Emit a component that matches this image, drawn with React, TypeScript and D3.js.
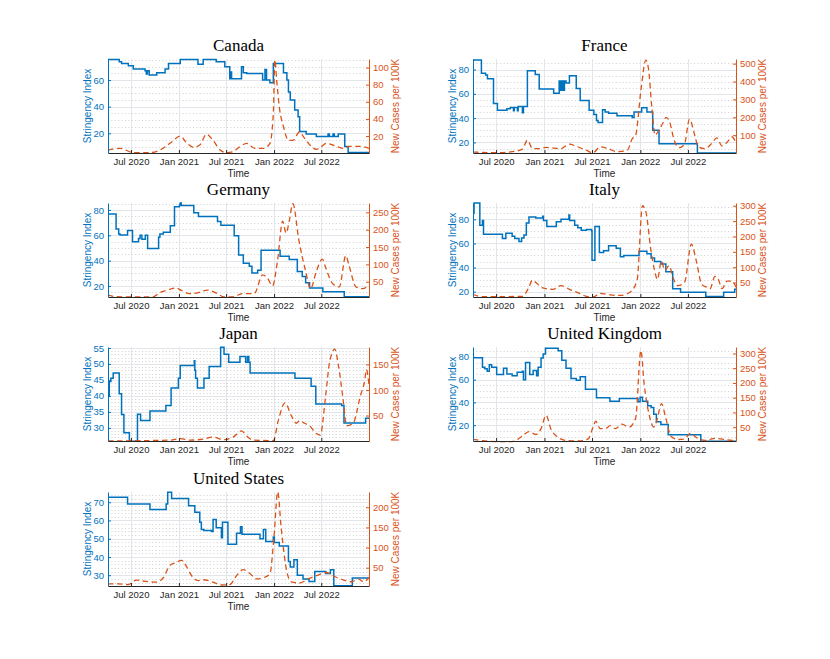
import { useRef, useEffect } from "react";
import * as d3 from "d3";

type Pt = [string, number];

// x axis
const timeRange = ["2020-04-04", "2022-12-31"];
const xTickDates = ["2020-07-01", "2021-01-01", "2021-07-01", "2022-01-01", "2022-07-01"];
const xTickLabels = ["Jul 2020", "Jan 2021", "Jul 2021", "Jan 2022", "Jul 2022"];

const countries = ["Canada", "France", "Germany", "Italy", "Japan", "United Kingdom", "United States"];

// Stringency index (step series)
const canadaStringency: Pt[] = [
    ["2020-04-04", 75.5], ["2020-05-17", 73.8], ["2020-05-26", 72.5], ["2020-06-21", 70.8], ["2020-07-10", 68.3],
    ["2020-08-24", 67], ["2020-08-29", 64.5], ["2020-09-02", 67], ["2020-09-09", 63.8], ["2020-10-08", 65.5],
    ["2020-11-09", 68.3], ["2020-11-22", 72.5], ["2021-01-06", 75.5], ["2021-03-15", 71.8], ["2021-04-04", 75.5],
    ["2021-05-24", 73.8], ["2021-06-26", 70], ["2021-07-15", 61], ["2021-07-19", 66], ["2021-07-22", 61],
    ["2021-08-23", 61], ["2021-08-29", 70], ["2021-09-05", 65.5], ["2021-09-18", 65], ["2021-11-18", 60],
    ["2021-11-27", 68], ["2021-12-03", 60], ["2021-12-16", 58], ["2021-12-29", 72.5], ["2022-02-06", 65.5],
    ["2022-02-19", 60], ["2022-02-25", 51], ["2022-03-04", 45], ["2022-03-21", 37.5], ["2022-04-03", 32.5],
    ["2022-04-09", 21.3], ["2022-05-04", 19.5], ["2022-06-12", 17.5], ["2022-07-27", 19.5], ["2022-08-01", 17.5],
    ["2022-08-15", 19.5], ["2022-08-20", 17.5], ["2022-09-04", 19.5], ["2022-09-29", 10], ["2022-10-12", 5.5],
    ["2022-12-31", 5.5],
];
const franceStringency: Pt[] = [
    ["2020-04-04", 87.9], ["2020-05-06", 77], ["2020-05-22", 75.5], ["2020-05-29", 72.5], ["2020-06-21", 52],
    ["2020-07-06", 46.5], ["2020-08-11", 47.8], ["2020-08-24", 48.8], ["2020-09-05", 46], ["2020-09-08", 48.8],
    ["2020-09-20", 46], ["2020-09-23", 49.6], ["2020-10-09", 44.4], ["2020-10-13", 49.6], ["2020-10-28", 79],
    ["2020-11-27", 76], ["2020-12-12", 64], ["2021-02-05", 60.5], ["2021-02-26", 70.5], ["2021-03-01", 63],
    ["2021-03-04", 70.5], ["2021-03-08", 63], ["2021-03-11", 70.5], ["2021-03-15", 63], ["2021-03-18", 70.5],
    ["2021-03-24", 69], ["2021-04-06", 75], ["2021-05-02", 64.5], ["2021-05-17", 54.5], ["2021-06-20", 46.5],
    ["2021-07-08", 43], ["2021-07-18", 38], ["2021-07-24", 36.5], ["2021-08-10", 47], ["2021-08-20", 45],
    ["2021-09-02", 44], ["2021-10-04", 42], ["2021-12-01", 40.5], ["2021-12-08", 45], ["2022-01-06", 48.5],
    ["2022-01-26", 45], ["2022-02-17", 30], ["2022-03-13", 19], ["2022-08-06", 11.3], ["2022-12-31", 11.3],
];
const germanyStringency: Pt[] = [
    ["2020-04-04", 76.8], ["2020-05-05", 65], ["2020-05-15", 61], ["2020-05-20", 60.3], ["2020-06-18", 63.7],
    ["2020-07-07", 55], ["2020-07-30", 57.5], ["2020-08-05", 60], ["2020-08-12", 56.8], ["2020-08-25", 60],
    ["2020-09-03", 49.5], ["2020-10-15", 58.5], ["2020-10-20", 61], ["2020-11-02", 62.5], ["2020-11-29", 67.5],
    ["2020-12-15", 82.5], ["2021-01-03", 84], ["2021-01-06", 85.5], ["2021-01-10", 83.5], ["2021-02-27", 77.8],
    ["2021-03-17", 74.8], ["2021-05-29", 70.8], ["2021-06-11", 68], ["2021-08-01", 59.7], ["2021-08-18", 44.5],
    ["2021-09-05", 38], ["2021-09-28", 35.5], ["2021-10-08", 30.3], ["2021-10-30", 32.5], ["2021-11-12", 48.3],
    ["2022-01-24", 43.5], ["2022-02-28", 41], ["2022-03-31", 31.5], ["2022-04-19", 27.5], ["2022-05-02", 22.5],
    ["2022-05-17", 18.5], ["2022-07-07", 15.5], ["2022-09-27", 11.5], ["2022-12-31", 11.5],
];
const italyStringency: Pt[] = [
    ["2020-04-04", 85], ["2020-04-08", 93.5], ["2020-04-30", 75], ["2020-05-10", 79], ["2020-05-14", 67.5],
    ["2020-07-25", 64], ["2020-08-07", 68.5], ["2020-08-31", 66], ["2020-09-10", 64], ["2020-09-26", 61.5],
    ["2020-10-06", 64.5], ["2020-10-15", 67], ["2020-10-24", 77], ["2020-11-03", 82], ["2020-11-29", 81],
    ["2020-12-25", 82.5], ["2020-12-28", 79], ["2021-01-10", 74], ["2021-02-15", 78], ["2021-03-05", 80],
    ["2021-04-04", 83.5], ["2021-04-07", 79], ["2021-04-26", 75], ["2021-05-08", 73], ["2021-05-21", 71],
    ["2021-06-10", 71.5], ["2021-06-29", 70.5], ["2021-07-01", 46], ["2021-07-12", 74], ["2021-07-29", 52.5],
    ["2021-08-14", 54], ["2021-09-02", 58], ["2021-10-01", 56], ["2021-10-17", 49], ["2021-10-30", 50],
    ["2021-12-27", 53.5], ["2022-01-26", 51.5], ["2022-02-11", 48], ["2022-02-24", 45], ["2022-03-20", 43],
    ["2022-04-08", 36.5], ["2022-05-04", 22.5], ["2022-06-03", 19.5], ["2022-09-07", 16], ["2022-11-14", 19.5],
    ["2022-12-26", 22], ["2022-12-31", 22],
];
const japanStringency: Pt[] = [
    ["2020-04-04", 40], ["2020-04-09", 44.5], ["2020-04-15", 45.5], ["2020-04-24", 47.2], ["2020-05-17", 40.7],
    ["2020-05-26", 34.2], ["2020-06-04", 28.5], ["2020-06-25", 25.8], ["2020-07-26", 34.3], ["2020-08-07", 32.3],
    ["2020-09-12", 35.3], ["2020-11-12", 37], ["2020-12-02", 42.5], ["2020-12-30", 45.5], ["2021-01-06", 49.5],
    ["2021-03-01", 51], ["2021-03-03", 48], ["2021-03-06", 45.5], ["2021-03-13", 42.5], ["2021-04-07", 45.5],
    ["2021-04-27", 49.2], ["2021-06-10", 55.2], ["2021-06-23", 53], ["2021-07-11", 50.5], ["2021-08-23", 52.3],
    ["2021-09-14", 50.5], ["2021-09-21", 52.3], ["2021-09-26", 50.5], ["2021-10-01", 47.2], ["2022-03-22", 45.5],
    ["2022-05-23", 43], ["2022-06-10", 37.5], ["2022-09-17", 37], ["2022-09-26", 31.5], ["2022-12-18", 33],
    ["2022-12-31", 33],
];
const ukStringency: Pt[] = [
    ["2020-04-04", 79.2], ["2020-05-10", 71], ["2020-05-19", 69.5], ["2020-05-28", 67.5], ["2020-06-05", 73],
    ["2020-06-14", 71], ["2020-07-03", 64.5], ["2020-07-29", 70], ["2020-08-11", 65], ["2020-08-31", 63.5],
    ["2020-09-19", 66.5], ["2020-10-09", 67.5], ["2020-10-13", 60], ["2020-10-21", 75], ["2020-11-06", 64.5],
    ["2020-11-19", 68], ["2020-12-02", 63.5], ["2020-12-08", 71], ["2020-12-19", 79], ["2020-12-27", 82.5],
    ["2021-01-05", 87.5], ["2021-02-22", 85.5], ["2021-03-08", 77], ["2021-03-24", 70], ["2021-04-12", 61],
    ["2021-05-02", 59.5], ["2021-05-17", 62.5], ["2021-06-06", 51.5], ["2021-07-18", 44], ["2021-09-07", 41],
    ["2021-10-13", 43.5], ["2021-12-23", 40.5], ["2021-12-31", 44.5], ["2022-01-09", 41], ["2022-01-29", 37],
    ["2022-02-11", 35.5], ["2022-02-21", 29.5], ["2022-03-03", 23], ["2022-03-20", 20.5], ["2022-04-17", 11.5],
    ["2022-08-19", 5.8], ["2022-12-31", 5.8],
];
const usStringency: Pt[] = [
    ["2020-04-04", 72.7], ["2020-06-18", 69], ["2020-09-12", 66], ["2020-11-13", 69], ["2020-11-19", 75.5],
    ["2020-12-04", 72], ["2021-02-07", 68], ["2021-03-03", 64.5], ["2021-03-22", 59], ["2021-03-28", 55],
    ["2021-04-07", 54.5], ["2021-05-06", 54], ["2021-05-12", 60.5], ["2021-05-24", 56], ["2021-06-13", 50.5],
    ["2021-06-17", 59], ["2021-07-08", 47], ["2021-08-10", 53], ["2021-08-25", 56.5], ["2021-08-31", 52.5],
    ["2021-11-08", 50], ["2021-11-21", 55], ["2021-11-30", 48.5], ["2021-12-29", 51], ["2022-01-02", 48],
    ["2022-01-21", 46], ["2022-02-25", 37.5], ["2022-03-04", 34.5], ["2022-03-18", 38.5], ["2022-03-31", 30],
    ["2022-04-22", 28], ["2022-05-15", 26.5], ["2022-06-06", 32], ["2022-07-18", 31], ["2022-08-05", 33],
    ["2022-08-18", 24.2], ["2022-10-28", 28.5], ["2022-12-31", 28.5],
];

// New cases per 100K
const canadaCases: Pt[] = [
    ["2020-04-04", 3.7], ["2020-05-20", 5.6], ["2020-07-10", 0.6], ["2020-09-12", 0.6], ["2020-10-20", 3.7],
    ["2020-11-28", 11.5], ["2021-01-06", 20], ["2021-02-01", 11.5], ["2021-02-27", 6.8], ["2021-03-22", 9.5],
    ["2021-04-17", 22], ["2021-05-12", 15], ["2021-06-07", 4], ["2021-07-02", 0.6], ["2021-07-28", 1.8],
    ["2021-08-23", 7.6], ["2021-09-18", 11.5], ["2021-10-19", 5.6], ["2021-11-21", 5.6], ["2021-12-16", 11.5],
    ["2021-12-29", 46], ["2022-01-04", 109], ["2022-01-11", 85], ["2022-01-21", 54], ["2022-02-06", 31],
    ["2022-02-25", 15], ["2022-03-14", 15], ["2022-04-09", 25], ["2022-04-22", 20], ["2022-05-17", 10],
    ["2022-06-12", 4.5], ["2022-07-01", 7.6], ["2022-07-20", 11.5], ["2022-08-15", 9.5], ["2022-09-23", 5.6],
    ["2022-10-18", 8], ["2022-11-26", 8], ["2022-12-31", 5.6],
];
const franceCases: Pt[] = [
    ["2020-04-04", 6], ["2020-06-30", 2], ["2020-08-31", 7.8], ["2020-10-09", 22], ["2020-10-28", 72],
    ["2020-11-17", 25], ["2020-12-12", 25], ["2021-01-07", 32], ["2021-02-02", 28], ["2021-03-05", 25],
    ["2021-04-06", 50], ["2021-05-02", 38], ["2021-06-10", 15], ["2021-07-05", 2], ["2021-08-01", 35],
    ["2021-08-26", 28], ["2021-10-04", 8], ["2021-11-12", 15], ["2021-12-01", 80], ["2021-12-14", 100],
    ["2022-01-03", 350], ["2022-01-22", 520], ["2022-02-01", 470], ["2022-02-14", 250], ["2022-02-26", 100],
    ["2022-03-13", 130], ["2022-04-01", 180], ["2022-04-08", 200], ["2022-04-21", 180], ["2022-05-10", 70],
    ["2022-05-29", 30], ["2022-06-18", 50], ["2022-07-07", 190], ["2022-07-27", 100], ["2022-08-09", 35],
    ["2022-09-04", 25], ["2022-09-30", 55], ["2022-10-19", 85], ["2022-11-08", 40], ["2022-11-27", 60],
    ["2022-12-16", 90], ["2022-12-31", 55],
];
const germanyCases: Pt[] = [
    ["2020-04-04", 12], ["2020-05-05", 6.7], ["2020-09-23", 6], ["2020-10-18", 18], ["2020-11-13", 25],
    ["2020-12-21", 32], ["2021-01-10", 25], ["2021-02-11", 16], ["2021-03-13", 18], ["2021-04-21", 26],
    ["2021-05-23", 18], ["2021-06-23", 6], ["2021-07-25", 6], ["2021-09-02", 16], ["2021-10-17", 16],
    ["2021-11-18", 70], ["2021-12-07", 60], ["2021-12-26", 38], ["2022-01-14", 110], ["2022-02-03", 225],
    ["2022-02-16", 190], ["2022-02-28", 225], ["2022-03-14", 275], ["2022-04-06", 170], ["2022-05-02", 80],
    ["2022-05-21", 30], ["2022-06-12", 80], ["2022-07-05", 115], ["2022-07-18", 90], ["2022-08-13", 45],
    ["2022-09-08", 35], ["2022-10-03", 125], ["2022-10-16", 95], ["2022-11-11", 35], ["2022-12-06", 30],
    ["2022-12-31", 40],
];
const italyCases: Pt[] = [
    ["2020-04-04", 12], ["2020-05-07", 4], ["2020-10-09", 5], ["2020-11-03", 35], ["2020-11-16", 58],
    ["2020-11-29", 50], ["2020-12-25", 33], ["2021-02-02", 28], ["2021-03-05", 40], ["2021-04-06", 28],
    ["2021-05-15", 15], ["2021-06-10", 5], ["2021-07-05", 3], ["2021-08-01", 15], ["2021-09-09", 10],
    ["2021-10-17", 8], ["2021-11-25", 20], ["2021-12-20", 60], ["2022-01-09", 300], ["2022-01-22", 280],
    ["2022-02-11", 150], ["2022-02-24", 90], ["2022-03-07", 60], ["2022-03-22", 120], ["2022-04-04", 90],
    ["2022-04-21", 105], ["2022-05-04", 70], ["2022-05-23", 40], ["2022-06-18", 50], ["2022-07-14", 175],
    ["2022-08-02", 120], ["2022-08-22", 45], ["2022-09-10", 35], ["2022-09-23", 30], ["2022-10-12", 70],
    ["2022-10-25", 60], ["2022-11-08", 30], ["2022-11-27", 55], ["2022-12-16", 55], ["2022-12-31", 35],
];
const japanCases: Pt[] = [
    ["2020-04-04", 0.5], ["2020-11-28", 2], ["2021-01-06", 5], ["2021-02-13", 2], ["2021-04-04", 4],
    ["2021-05-12", 8], ["2021-06-19", 3], ["2021-07-28", 8], ["2021-08-29", 20], ["2021-09-18", 10],
    ["2021-10-13", 2], ["2021-12-29", 1], ["2022-01-17", 40], ["2022-02-12", 75], ["2022-03-08", 50],
    ["2022-03-27", 35], ["2022-04-09", 40], ["2022-04-28", 35], ["2022-05-17", 30], ["2022-06-12", 15],
    ["2022-06-27", 12], ["2022-07-18", 90], ["2022-08-02", 155], ["2022-08-22", 180], ["2022-09-04", 150],
    ["2022-09-23", 80], ["2022-10-06", 30], ["2022-11-01", 35], ["2022-11-13", 55], ["2022-11-26", 85],
    ["2022-12-15", 120], ["2022-12-21", 140], ["2022-12-31", 110],
];
const ukCases: Pt[] = [
    ["2020-04-04", 8.5], ["2020-06-30", 1], ["2020-08-31", 1], ["2020-10-09", 20], ["2020-11-03", 35],
    ["2020-11-29", 25], ["2020-12-19", 45], ["2021-01-07", 90], ["2021-01-27", 40], ["2021-02-15", 20],
    ["2021-03-24", 5], ["2021-05-15", 3], ["2021-06-16", 10], ["2021-07-05", 50], ["2021-07-15", 70],
    ["2021-08-01", 45], ["2021-08-20", 45], ["2021-09-09", 55], ["2021-09-28", 45], ["2021-10-23", 60],
    ["2021-11-19", 50], ["2021-12-14", 80], ["2022-01-03", 310], ["2022-01-15", 200], ["2022-02-04", 90],
    ["2022-02-21", 50], ["2022-03-07", 80], ["2022-03-22", 130], ["2022-04-08", 80], ["2022-04-27", 20],
    ["2022-05-23", 8], ["2022-06-18", 10], ["2022-07-11", 30], ["2022-08-02", 15], ["2022-09-04", 5],
    ["2022-10-12", 12], ["2022-11-21", 8], ["2022-12-16", 5], ["2022-12-31", 12],
];
const usCases: Pt[] = [
    ["2020-04-04", 10], ["2020-05-12", 10], ["2020-06-21", 8], ["2020-07-22", 19], ["2020-08-24", 16],
    ["2020-10-08", 14], ["2020-11-02", 25], ["2020-11-28", 56], ["2020-12-17", 62], ["2021-01-12", 68],
    ["2021-01-28", 55], ["2021-02-19", 30], ["2021-03-15", 18], ["2021-04-04", 20], ["2021-05-12", 14],
    ["2021-06-13", 7], ["2021-07-15", 8], ["2021-08-10", 30], ["2021-09-05", 45], ["2021-10-01", 35],
    ["2021-10-26", 22], ["2021-11-21", 25], ["2021-12-16", 35], ["2022-01-01", 130], ["2022-01-15", 238],
    ["2022-01-28", 150], ["2022-02-19", 40], ["2022-03-08", 15], ["2022-04-09", 12], ["2022-05-11", 22],
    ["2022-06-12", 30], ["2022-07-20", 38], ["2022-08-15", 30], ["2022-09-23", 20], ["2022-10-25", 15],
    ["2022-11-20", 22], ["2022-12-09", 15], ["2022-12-31", 25],
];

const stringencySeries = [canadaStringency, franceStringency, germanyStringency, italyStringency, japanStringency, ukStringency, usStringency];
const casesSeries = [canadaCases, franceCases, germanyCases, italyCases, japanCases, ukCases, usCases];

// axis limits and ticks per country
const stringencyLimits = [[5.2, 75.8], [11.3, 88.7], [11.3, 85.5], [15.6, 93.5], [25.9, 55.3], [6.1, 88.7], [24.1, 75.6]];
const stringencyTicks = [[20, 40, 60], [20, 40, 60, 80], [20, 40, 60, 80], [20, 40, 60, 80], [30, 35, 40, 45, 50, 55], [20, 40, 60, 80], [30, 40, 50, 60, 70]];
const stringencyMinor = [5, 5, 5, 5, 1, 5, 2];
const casesLimits = [[0.2, 110], [0.4, 526], [6, 277], [3, 309], [0.3, 184], [3, 322], [4.5, 238]];
const casesTicks = [[20, 40, 60, 80, 100], [100, 200, 300, 400, 500], [50, 100, 150, 200, 250], [50, 100, 150, 200, 250, 300], [50, 100, 150], [50, 100, 150, 200, 250, 300], [50, 100, 150, 200]];

const BLUE = "#0072BD";
const ORANGE = "#D95319";
const SANS = "'Liberation Sans', Arial, Helvetica, sans-serif";

export default function App() {
    const svgRef = useRef<SVGSVGElement | null>(null);
    const width = 830;
    const height = 659;

    useEffect(() => {
        if (!svgRef.current) return;
        const svg = d3.select(svgRef.current);
        svg.selectAll("*").remove();

        const parse = d3.timeParse("%Y-%m-%d");
        const colX = [108, 473];
        const colW = [261, 263];
        const rowY = [59, 203, 347, 492];
        const plotH = 94;

        countries.forEach((name, i) => {
            const x0 = colX[i % 2];
            const w = colW[i % 2];
            const y0 = rowY[Math.floor(i / 2)];
            const x1 = x0 + w;
            const yb = y0 + plotH;

            const x = d3.scaleTime()
                .domain([parse(timeRange[0])!, parse(timeRange[1])!])
                .range([x0, x1]);
            const yL = d3.scaleLinear().domain(stringencyLimits[i]).range([yb, y0]);
            const yR = d3.scaleLinear().domain(casesLimits[i]).range([yb, y0]);

            const g = svg.append("g");

            // minor grid on the stringency axis (dotted)
            const step = stringencyMinor[i];
            const lim = stringencyLimits[i];
            const minorY = d3.range(Math.ceil(lim[0] / step) * step, lim[1], step)
                .filter(v => !stringencyTicks[i].includes(v));
            g.append("g").selectAll("line").data(minorY).enter().append("line")
                .attr("x1", x0).attr("x2", x1)
                .attr("y1", d => Math.round(yL(d)) + 0.5).attr("y2", d => Math.round(yL(d)) + 0.5)
                .attr("stroke", "#c4c4c4").attr("stroke-width", 0.8).attr("stroke-dasharray", "1 2.4");

            // major grid
            g.append("g").selectAll("line").data(xTickDates).enter().append("line")
                .attr("x1", d => Math.round(x(parse(d)!)) + 0.5).attr("x2", d => Math.round(x(parse(d)!)) + 0.5)
                .attr("y1", y0).attr("y2", yb)
                .attr("stroke", "#e2e6ea").attr("stroke-width", 1);
            g.append("g").selectAll("line").data(stringencyTicks[i]).enter().append("line")
                .attr("x1", x0).attr("x2", x1)
                .attr("y1", d => Math.round(yL(d)) + 0.5).attr("y2", d => Math.round(yL(d)) + 0.5)
                .attr("stroke", "#e2e6ea").attr("stroke-width", 1);

            // stringency (solid step line)
            const sLine = d3.line<Pt>()
                .x(d => x(parse(d[0])!))
                .y(d => yL(d[1]))
                .curve(d3.curveStepAfter);
            g.append("path")
                .datum(stringencySeries[i])
                .attr("d", sLine)
                .attr("fill", "none")
                .attr("stroke", BLUE)
                .attr("stroke-width", 1.5);

            // cases (dashed)
            const cLine = d3.line<Pt>()
                .x(d => x(parse(d[0])!))
                .y(d => yR(d[1]))
                .curve(d3.curveMonotoneX);
            g.append("path")
                .datum(casesSeries[i])
                .attr("d", cLine)
                .attr("fill", "none")
                .attr("stroke", ORANGE)
                .attr("stroke-width", 1.3)
                .attr("stroke-dasharray", "5.5 3.5");

            // bottom axis
            const xAxis = g.append("g")
                .attr("transform", `translate(0,${yb})`)
                .call(
                    d3.axisBottom(x)
                        .tickValues(xTickDates.map(d => parse(d)!))
                        .tickFormat((_, k) => xTickLabels[k])
                        .tickSize(-3)
                        .tickSizeOuter(0)
                        .tickPadding(5)
                );
            xAxis.select(".domain").attr("stroke", "#262626");
            xAxis.selectAll("line").attr("stroke", "#262626");
            xAxis.selectAll("text").attr("fill", "#262626").attr("font-size", 9.5).attr("font-family", SANS);

            // left axis
            const lAxis = g.append("g")
                .attr("transform", `translate(${x0},0)`)
                .call(
                    d3.axisLeft(yL)
                        .tickValues(stringencyTicks[i])
                        .tickSize(-3)
                        .tickSizeOuter(0)
                        .tickPadding(4)
                );
            lAxis.select(".domain").attr("stroke", BLUE);
            lAxis.selectAll("line").attr("stroke", BLUE);
            lAxis.selectAll("text").attr("fill", BLUE).attr("font-size", 9.5).attr("font-family", SANS);

            // right axis
            const rAxis = g.append("g")
                .attr("transform", `translate(${x1},0)`)
                .call(
                    d3.axisRight(yR)
                        .tickValues(casesTicks[i])
                        .tickSize(-3)
                        .tickSizeOuter(0)
                        .tickPadding(4)
                );
            rAxis.select(".domain").attr("stroke", ORANGE);
            rAxis.selectAll("line").attr("stroke", ORANGE);
            rAxis.selectAll("text").attr("fill", ORANGE).attr("font-size", 9.5).attr("font-family", SANS);

            // labels
            g.append("text")
                .attr("x", (x0 + x1) / 2)
                .attr("y", y0 - 8)
                .attr("text-anchor", "middle")
                .attr("font-family", "'Liberation Serif', 'Times New Roman', serif")
                .attr("font-size", 17)
                .attr("fill", "#000")
                .text(name);

            g.append("text")
                .attr("x", (x0 + x1) / 2)
                .attr("y", yb + 24)
                .attr("text-anchor", "middle")
                .attr("font-family", SANS)
                .attr("font-size", 10)
                .attr("fill", "#262626")
                .text("Time");

            g.append("text")
                .attr("transform", `translate(${x0 - 17},${y0 + plotH / 2}) rotate(-90)`)
                .attr("text-anchor", "middle")
                .attr("font-family", SANS)
                .attr("font-size", 10)
                .attr("fill", BLUE)
                .text("Stringency Index");

            g.append("text")
                .attr("transform", `translate(${x1 + 30},${y0 + plotH / 2}) rotate(-90)`)
                .attr("text-anchor", "middle")
                .attr("font-family", SANS)
                .attr("font-size", 10)
                .attr("fill", ORANGE)
                .text("New Cases per 100K");
        });
    }, []);

    return (
        <svg
            ref={svgRef}
            width={width}
            height={height}
            style={{ position: "absolute", left: 0, top: 0, background: "#fff" }}
        />
    );
}
